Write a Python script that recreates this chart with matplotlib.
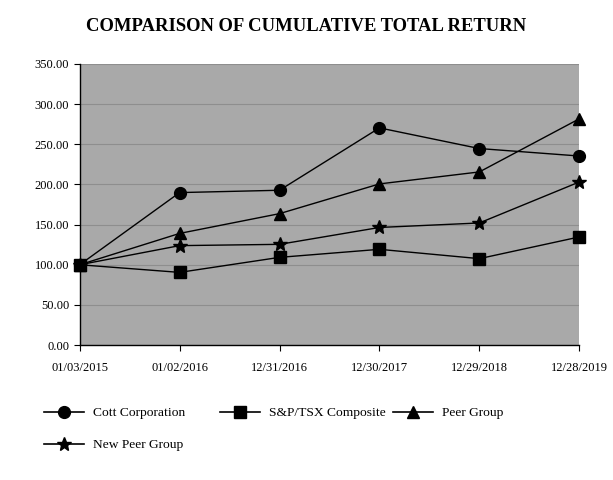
import matplotlib
matplotlib.use("Agg")
import matplotlib.pyplot as plt
from matplotlib.lines import Line2D

dates = ["01/03/2015", "01/02/2016", "12/31/2016", "12/30/2017", "12/29/2018", "12/28/2019"]
cott = [100.0, 189.8, 192.7, 270.3, 244.6, 235.3]
sptsx = [100.0, 90.5, 109.2, 119.2, 107.6, 134.6]
peer = [100.0, 139.0, 163.6, 200.6, 215.5, 281.6]
new_peer = [100.0, 123.8, 125.4, 146.4, 152.0, 203.0]
yticks = [0, 50, 100, 150, 200, 250, 300, 350]

plt.rcParams['font.family'] = ['Liberation Serif', 'DejaVu Serif']

W, H = 613, 480
fig = plt.figure(figsize=(W / 100, H / 100), dpi=100)
ax = fig.add_axes([0.13, 0.281, 0.815, 0.586])
ax.set_facecolor('#A9A9A9')
x = list(range(len(dates)))
series = [(cott, 'o', 'Cott Corporation', 8.5, 8.5),
          (sptsx, 's', 'S&P/TSX Composite', 8.5, 8),
          (peer, '^', 'Peer Group', 8.5, 8.5),
          (new_peer, '*', 'New Peer Group', 10, 10)]
proxies = []
for vals, m, lab, ms, lms in series:
    ax.plot(x, vals, color='black', lw=1.0, marker=m, markersize=ms,
            markerfacecolor='black', markeredgecolor='black', label=lab,
            zorder=3, clip_on=False)
    proxies.append(Line2D([], [], color='black', lw=1.2, marker=m, markersize=lms,
                          markerfacecolor='black', markeredgecolor='black', label=lab))

ax.set_xlim(0, len(dates) - 1)
ax.set_ylim(0, 350)
ax.set_yticks(yticks)
ax.set_yticklabels([f"{v:.2f}" for v in yticks], fontsize=9)
ax.set_xticks(x)
ax.set_xticklabels(dates, fontsize=9)
ax.tick_params(axis='x', pad=8, length=4, direction='out')
ax.tick_params(axis='y', length=4, direction='out')
ax.grid(axis='y', color='#8E8E8E', lw=0.8)
ax.set_axisbelow(True)
for s in ['top', 'right']:
    ax.spines[s].set_visible(False)
for s in ['left', 'bottom']:
    ax.spines[s].set_color('black')
    ax.spines[s].set_linewidth(1.0)

fig.text(0.5, 0.945, "COMPARISON OF CUMULATIVE TOTAL RETURN", ha='center', va='center',
         fontsize=13.4, fontweight='bold')

# legend entries placed like the original (Excel-style fixed columns)
legend_pos = [(44, 413), (220, 413), (393, 413), (44, 445)]
for h, (px, py) in zip(proxies, legend_pos):
    fig.legend([h], [h.get_label()], loc='center left',
               bbox_to_anchor=(px / W, 1 - py / H), frameon=False,
               fontsize=9.7, handlelength=2.95, handletextpad=0.67,
               borderpad=0, borderaxespad=0)

fig.savefig("out.png", dpi=100)
